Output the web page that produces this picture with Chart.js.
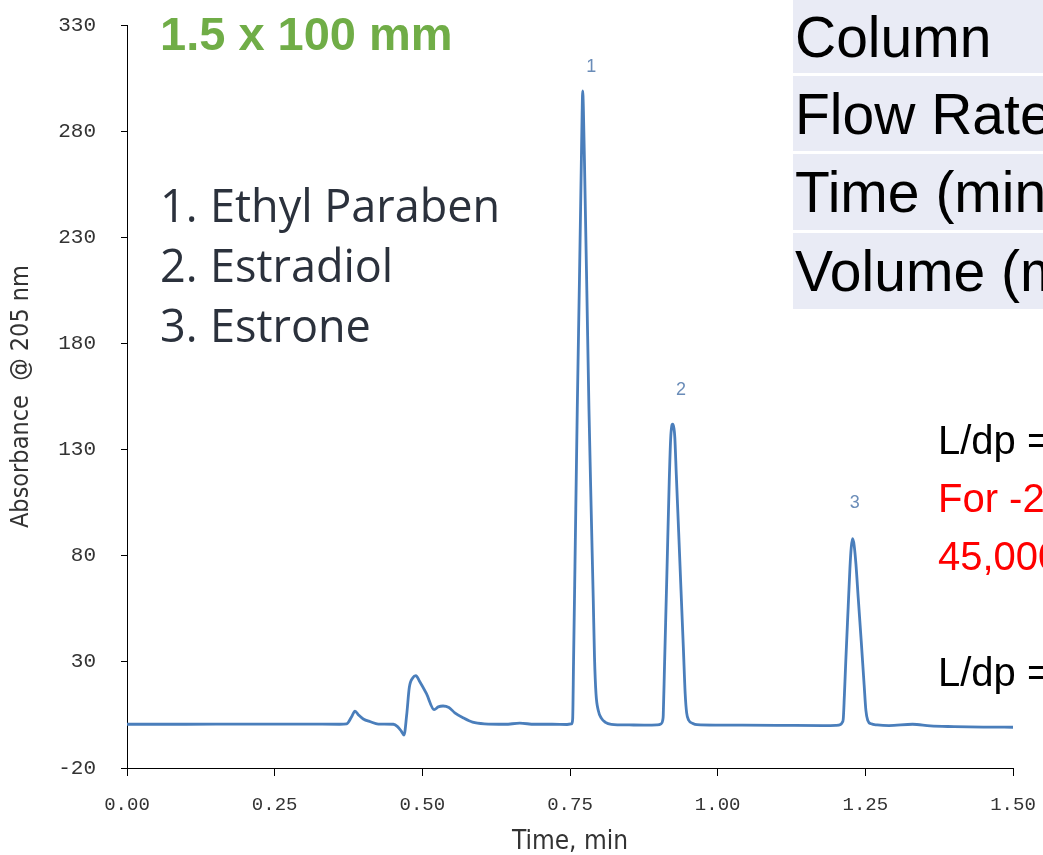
<!DOCTYPE html>
<html>
<head>
<meta charset="utf-8">
<title>Chromatogram 1.5 x 100 mm</title>
<script src="https://cdn.jsdelivr.net/npm/chart.js@4.4.1/dist/chart.umd.min.js"></script>
<style>
  html, body { margin: 0; padding: 0; background: #fff; }
  #wrap { position: relative; width: 1043px; height: 855px; overflow: hidden; }
</style>
</head>
<body>
<div id="wrap"><canvas id="myChart" width="1043" height="855"></canvas></div>
<script>
// Chromatogram trace: retention time (min) and absorbance at 205 nm
const timeMin = [
  0.000, 0.100, 0.200, 0.300, 0.360, 0.372, 0.380, 0.386, 0.392, 0.400,
  0.412, 0.4255, 0.451, 0.458, 0.464, 0.469, 0.4735, 0.478, 0.484, 0.489,
  0.495, 0.507, 0.520, 0.527, 0.535, 0.545, 0.555, 0.570, 0.585, 0.605,
  0.640, 0.665, 0.690, 0.720, 0.745,
  // peak 1
  0.7530, 0.7545, 0.7560, 0.7584, 0.7623, 0.7660, 0.7690, 0.7705, 0.7715, 0.7727,
  0.7750, 0.7785, 0.7821, 0.7860, 0.7894, 0.7915, 0.7940, 0.7980, 0.8030, 0.8100,
  0.8200, 0.8500, 0.8800,
  // peak 2
  0.8970, 0.9040, 0.9070, 0.9079, 0.9100, 0.9140, 0.9180, 0.9204, 0.9222, 0.9238,
  0.9260, 0.9274, 0.9300, 0.9340, 0.9379, 0.9420, 0.9450, 0.9475, 0.9510, 0.9580,
  0.9650,
  1.000, 1.100, 1.180,
  // peak 3
  1.2000, 1.2080, 1.2110, 1.2126, 1.2145, 1.2170, 1.2210, 1.2239, 1.2262, 1.2285,
  1.2310, 1.2341, 1.2380, 1.2430, 1.2480, 1.2510, 1.2540, 1.2600, 1.2700,
  1.290, 1.330, 1.360, 1.400, 1.450, 1.500
];
const absorbance = [
  0.6, 0.6, 0.7, 0.7, 0.6, 0.8, 4.0, 6.8, 5.0, 3.1,
  1.8, 0.7, 0.6, -0.5, -2.5, -4.5, 5.0, 18.0, 22.5, 23.5,
  21.0, 15.0, 7.5, 8.8, 9.2, 8.5, 6.0, 3.5, 1.6, 0.8,
  0.6, 1.1, 0.6, 0.6, 0.5,
  0.8, 3.0, 30.0, 75.0, 149.0, 210.0, 262.0, 288.0, 299.0, 290.0,
  258.0, 205.0, 149.0, 100.0, 59.0, 32.0, 15.0, 7.0, 3.5, 1.5,
  0.6, 0.3, 0.2,
  0.3, 0.8, 2.5, 5.0, 28.0, 71.0, 115.0, 135.0, 141.0, 142.0,
  140.0, 136.0, 118.0, 91.0, 64.0, 36.0, 15.0, 6.0, 2.5, 1.0,
  0.4,
  0.2, 0.1, 0.0,
  0.1, 0.5, 1.5, 3.0, 14.0, 31.0, 56.0, 74.0, 84.0, 88.0,
  85.0, 76.0, 60.0, 40.0, 19.0, 7.0, 2.5, 0.8, 0.3,
  0.0, 0.6, -0.2, -0.5, -0.7, -0.8
];

// peak numbers and where they sit (time, absorbance)
const peakNumbers = ["1", "2", "3"];
const peakLabelTime = [0.786, 0.938, 1.232];
const peakLabelAbs = [310, 158, 105];

const columnSize = "1.5 x 100 mm";
const compounds = ["Ethyl Paraben", "Estradiol", "Estrone"];
const tableRows = ["Column", "Flow Rate", "Time (min)", "Volume (mL)"];
const notes = [
  { text: "L/dp =", color: "#000000" },
  { text: "For -2", color: "#ff0000" },
  { text: "45,000", color: "#ff0000" },
  { text: "", color: "#000000" },
  { text: "L/dp =", color: "#000000" },
];

const monoFont = "'Liberation Mono', 'DejaVu Sans Mono', monospace";
const narrowFont = "'Liberation Sans Narrow', 'DejaVu Sans Condensed', 'Liberation Sans', sans-serif";

// keep tick label overhang from shrinking the plot area
function noScalePadding(scale) {
  scale.paddingTop = 0;
  scale.paddingBottom = 0;
  scale.paddingLeft = 0;
  scale.paddingRight = 0;
}

const textPlugin = {
  id: "textPlugin",
  afterDraw(chart) {
    const c = chart.ctx;
    const xs = chart.scales.x;
    const ys = chart.scales.y;
    c.save();

    // peak numbers
    c.fillStyle = "#6a8cb8";
    c.font = "18px 'Liberation Sans', sans-serif";
    c.textAlign = "center";
    c.textBaseline = "middle";
    peakNumbers.forEach((n, i) => {
      c.fillText(n, xs.getPixelForValue(peakLabelTime[i]), ys.getPixelForValue(peakLabelAbs[i]));
    });

    c.textAlign = "left";
    c.textBaseline = "alphabetic";

    // column size
    c.fillStyle = "#70ad47";
    c.font = "bold 47px 'Liberation Sans', sans-serif";
    c.fillText(columnSize, 160, 50);

    // compound list
    c.fillStyle = "#2b313c";
    c.font = "45px 'Open Sans', sans-serif";
    compounds.forEach((name, i) => {
      const y = 222 + i * 60;
      c.fillText((i + 1) + ".", 160, y);
      c.fillText(name, 210, y);
    });

    // table on the right
    const rowTop = [0, 76, 154, 233];
    const rowH = [73, 75, 76, 76];
    tableRows.forEach((row, i) => {
      c.fillStyle = "#e9ebf5";
      c.fillRect(793, rowTop[i], 260, rowH[i]);
      c.fillStyle = "#000000";
      c.font = "57px 'Liberation Sans', sans-serif";
      c.fillText(row, 795, rowTop[i] + rowH[i] / 2 + 20);
    });

    // notes
    c.font = "40px 'Liberation Sans', sans-serif";
    notes.forEach((n, i) => {
      c.fillStyle = n.color;
      c.fillText(n.text, 938, 454 + i * 58);
    });

    c.restore();
  },
};

function renderChart() {
  const ctx = document.getElementById("myChart");

  new Chart(ctx, {
    type: "line",
    data: {
      datasets: [
        {
          label: "Absorbance",
          data: timeMin.map((t, i) => ({ x: t, y: absorbance[i] })),
          borderColor: "#4a7ebb",
          borderWidth: 2.8,
          pointRadius: 0,
          cubicInterpolationMode: "monotone",
          fill: false,
        },
      ],
    },
    options: {
      responsive: false,
      animation: false,
      devicePixelRatio: 1,
      layout: { padding: { left: 0, right: 30, top: 25, bottom: 0 } },
      plugins: {
        legend: { display: false },
        tooltip: { enabled: false },
      },
      scales: {
        x: {
          type: "linear",
          min: 0,
          max: 1.5,
          afterFit(scale) {
            scale.height = 87;
            noScalePadding(scale);
          },
          ticks: {
            stepSize: 0.25,
            color: "#333333",
            padding: 18,
            font: { family: monoFont, size: 19 },
            callback: (v) => v.toFixed(2),
          },
          grid: { drawOnChartArea: false, drawTicks: true, tickLength: 8, tickColor: "#000000" },
          border: { display: true, color: "#000000", width: 1 },
          title: {
            display: true,
            text: "Time, min",
            color: "#333333",
            font: { family: narrowFont, size: 26, lineHeight: 1 },
            padding: { top: 0, bottom: 0 },
          },
        },
        y: {
          min: -20,
          max: 330,
          afterFit(scale) {
            scale.width = 127;
            noScalePadding(scale);
          },
          ticks: {
            stepSize: 50,
            color: "#333333",
            padding: 25,
            font: { family: monoFont, size: 21 },
          },
          grid: { drawOnChartArea: false, drawTicks: true, tickLength: 6, tickColor: "#000000" },
          border: { display: true, color: "#000000", width: 1 },
          title: {
            display: true,
            text: "Absorbance  @ 205 nm",
            color: "#333333",
            font: { family: narrowFont, size: 25, lineHeight: 1 },
            padding: { top: 9, bottom: 0 },
          },
        },
      },
    },
    plugins: [textPlugin],
  });
}

renderChart();
</script>
</body>
</html>
